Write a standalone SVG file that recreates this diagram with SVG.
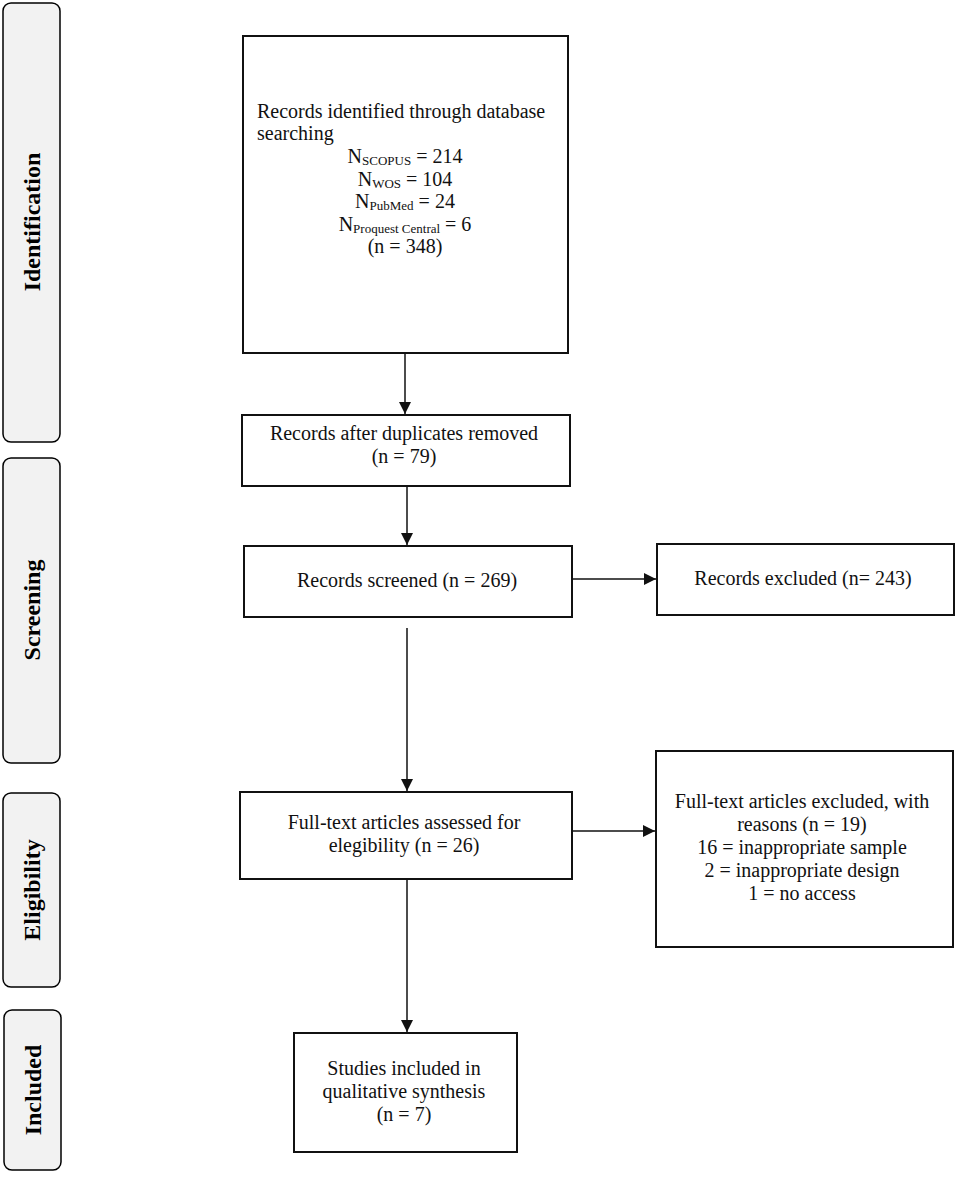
<svg xmlns="http://www.w3.org/2000/svg" width="957" height="1177" viewBox="0 0 957 1177">
<style>
.side{fill:#f2f2f2;stroke:#000;stroke-width:1.5}
.box{fill:#fff;stroke:#111;stroke-width:2}
.st{font-family:"Liberation Serif","Times New Roman",serif;font-weight:bold;font-size:24px;fill:#000;text-anchor:middle}
.t{font-family:"Liberation Serif","Times New Roman",serif;font-size:20px;fill:#111;text-anchor:middle}
.tl{font-family:"Liberation Serif","Times New Roman",serif;font-size:20px;fill:#111}
.sub{font-size:13px}
.c{fill:none;stroke:#111;stroke-width:1.5}
</style>
<defs>
<marker id="ah" markerUnits="userSpaceOnUse" markerWidth="14" markerHeight="14" viewBox="0 0 14 14" refX="12" refY="7" orient="auto">
<path d="M0,1 L12,7 L0,13 Z" fill="#111"/>
</marker>
</defs>
<rect width="957" height="1177" fill="#fff"/>
<g id="phase-identification">
<rect class="side" x="3" y="3" width="57" height="439" rx="8"/>
<text class="st" transform="translate(40,222) rotate(-90)">Identification</text>
</g>
<g id="phase-screening">
<rect class="side" x="3" y="458" width="57" height="305" rx="8"/>
<text class="st" transform="translate(40,610) rotate(-90)">Screening</text>
</g>
<g id="phase-eligibility">
<rect class="side" x="3" y="793" width="57" height="194" rx="8"/>
<text class="st" transform="translate(40,890) rotate(-90)">Eligibility</text>
</g>
<g id="phase-included">
<rect class="side" x="4" y="1010" width="57" height="160" rx="8"/>
<text class="st" transform="translate(41,1090) rotate(-90)">Included</text>
</g>
<g id="node-identified">
<rect class="box" x="243" y="36" width="325" height="317"/>
<text class="tl" x="257" y="118">Records identified through database</text>
<text class="tl" x="257" y="140">searching</text>
<text class="t" x="405" y="163">N<tspan class="sub" dy="2">SCOPUS</tspan><tspan dy="-2"> = 214</tspan></text>
<text class="t" x="405" y="186">N<tspan class="sub" dy="2">WOS</tspan><tspan dy="-2"> = 104</tspan></text>
<text class="t" x="405" y="208">N<tspan class="sub" dy="2">PubMed</tspan><tspan dy="-2"> = 24</tspan></text>
<text class="t" x="405" y="231">N<tspan class="sub" dy="2">Proquest Central</tspan><tspan dy="-2"> = 6</tspan></text>
<text class="t" x="405" y="253">(n = 348)</text>
</g>
<g id="node-duplicates">
<rect class="box" x="242" y="415" width="328" height="71"/>
<text class="t" x="404" y="440">Records after duplicates removed</text>
<text class="t" x="404" y="463">(n = 79)</text>
</g>
<g id="node-screened">
<rect class="box" x="244" y="546" width="328" height="71"/>
<text class="t" x="407" y="587">Records screened (n = 269)</text>
</g>
<g id="node-excluded">
<rect class="box" x="657" y="544" width="297" height="71"/>
<text class="t" x="803" y="585">Records excluded (n= 243)</text>
</g>
<g id="node-fulltext">
<rect class="box" x="240" y="792" width="332" height="87"/>
<text class="t" x="404" y="829">Full-text articles assessed for</text>
<text class="t" x="404" y="852">elegibility (n = 26)</text>
</g>
<g id="node-fulltext-excluded">
<rect class="box" x="656" y="751" width="297" height="196"/>
<text class="t" x="802" y="808">Full-text articles excluded, with</text>
<text class="t" x="802" y="831">reasons (n = 19)</text>
<text class="t" x="802" y="854">16 = inappropriate sample</text>
<text class="t" x="802" y="877">2 = inappropriate design</text>
<text class="t" x="802" y="900">1 = no access</text>
</g>
<g id="node-included">
<rect class="box" x="294" y="1033" width="223" height="119"/>
<text class="t" x="404" y="1075">Studies included in</text>
<text class="t" x="404" y="1098">qualitative synthesis</text>
<text class="t" x="404" y="1121">(n = 7)</text>
</g>
<g id="connectors">
<line class="c" x1="405" y1="353" x2="405" y2="414" marker-end="url(#ah)"/>
<line class="c" x1="407" y1="486" x2="407" y2="545" marker-end="url(#ah)"/>
<line class="c" x1="572" y1="579" x2="656" y2="579" marker-end="url(#ah)"/>
<line class="c" x1="407" y1="628" x2="407" y2="791" marker-end="url(#ah)"/>
<line class="c" x1="572" y1="831" x2="655" y2="831" marker-end="url(#ah)"/>
<line class="c" x1="407" y1="879" x2="407" y2="1032" marker-end="url(#ah)"/>
</g>
</svg>
